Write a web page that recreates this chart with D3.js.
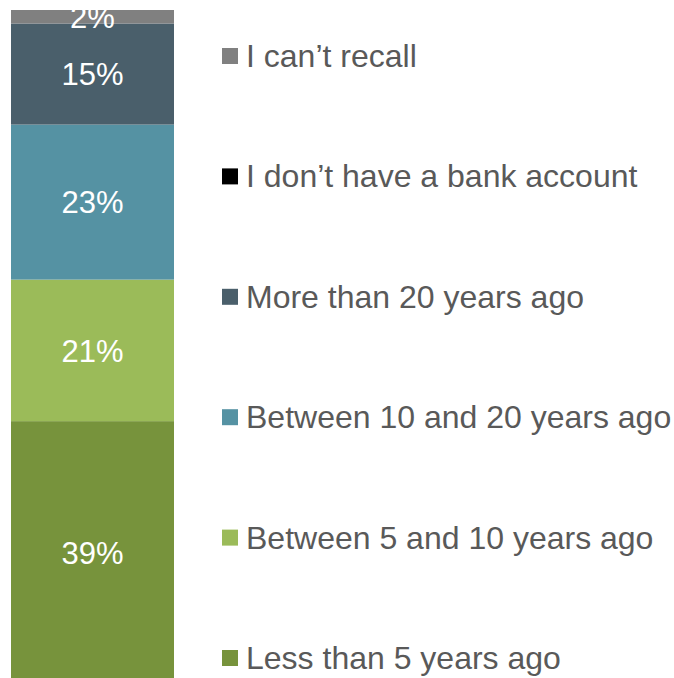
<!DOCTYPE html>
<html>
<head>
<meta charset="utf-8">
<script src="https://cdn.jsdelivr.net/npm/d3@7/dist/d3.min.js"></script>
<style>
  html, body { margin: 0; padding: 0; background: #ffffff; }
  svg { display: block; }
  text { font-family: "Liberation Sans", Arial, sans-serif; }
</style>
</head>
<body>
<svg id="chart" width="674" height="678"></svg>
<script>
// Answer categories, stacked from the bottom of the bar upward
const categories = [
  "Less than 5 years ago",
  "Between 5 and 10 years ago",
  "Between 10 and 20 years ago",
  "More than 20 years ago",
  "I don\u2019t have a bank account",
  "I can\u2019t recall"
];
// Share of respondents (%)
const values = [39, 21, 23, 15, 0, 2];
const colors = ["#77933c", "#9bbb59", "#5592a3", "#4a5f6b", "#000000", "#808080"];

const svg = d3.select("#chart");

// Stack the single bar
let acc = 0;
const segments = categories.map((c, i) => {
  const s = { cat: c, value: values[i], y0: acc, y1: acc + values[i], color: colors[i] };
  acc += values[i];
  return s;
});

const y = d3.scaleLinear().domain([0, 100]).range([684, 10]);
const x = d3.scaleBand().domain(["all"]).range([11, 174]).padding(0);

const bar = svg.append("g");
bar.selectAll("rect")
  .data(segments.filter(d => d.value > 0))
  .join("rect")
  .attr("x", x("all"))
  .attr("width", x.bandwidth())
  .attr("y", d => y(d.y1))
  .attr("height", d => y(d.y0) - y(d.y1))
  .attr("fill", d => d.color);

bar.selectAll("text")
  .data(segments.filter(d => d.value > 0))
  .join("text")
  .attr("x", x("all") + x.bandwidth() / 2)
  .attr("y", d => (y(d.y0) + y(d.y1)) / 2)
  .attr("dy", "0.36em")
  .attr("text-anchor", "middle")
  .attr("fill", "#ffffff")
  .attr("font-size", 31)
  .text(d => d.value + "%");

// Legend, top row is the top of the stack
const legendOrder = segments.slice().reverse();
const ly = d3.scalePoint().domain(legendOrder.map(d => d.cat)).range([56, 658]);

const legend = svg.append("g");
const rows = legend.selectAll("g")
  .data(legendOrder)
  .join("g")
  .attr("transform", d => `translate(0,${ly(d.cat)})`);

rows.append("rect")
  .attr("x", 222)
  .attr("y", -8)
  .attr("width", 16)
  .attr("height", 16)
  .attr("fill", d => d.color);

rows.append("text")
  .attr("x", 246)
  .attr("y", 11)
  .attr("fill", "#595959")
  .attr("font-size", 32)
  .text(d => d.cat);
</script>
</body>
</html>
